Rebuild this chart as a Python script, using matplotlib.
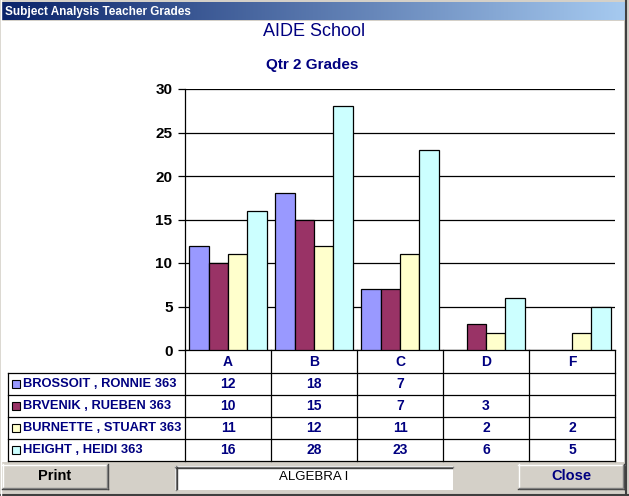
import matplotlib as mpl
import matplotlib.pyplot as plt
import numpy as np
from matplotlib.patches import Rectangle
from matplotlib.transforms import blended_transform_factory

# Data
grades = ['A', 'B', 'C', 'D', 'F']
students = ['BROSSOIT , RONNIE 363', 'BRVENIK , RUEBEN 363',
            'BURNETTE , STUART 363', 'HEIGHT , HEIDI 363']
brossoit = [12, 18, 7, None, None]
brvenik = [10, 15, 7, 3, None]
burnette = [11, 12, 11, 2, 2]
height = [16, 28, 23, 6, 5]
series = [brossoit, brvenik, burnette, height]
colors = ['#9999FF', '#993366', '#FFFFCC', '#CCFFFF']
yticks = [0, 5, 10, 15, 20, 25, 30]

NAVY = '#000080'
FACE = '#D4D0C8'
W, H = 629, 496

# plot area / table layout in pixels
PL, PR, PT, PB = 185, 615, 89, 350
TL = 8
HEAD_H, ROW_H = 23, 22

mpl.rcParams['font.family'] = 'Liberation Sans'

fig = plt.figure(figsize=(W / 100, H / 100), dpi=100)
fig.patch.set_facecolor(FACE)

# window chrome, pixel coords
bg = fig.add_axes([0, 0, 1, 1], zorder=0)
grad = np.linspace(0, 1, 256).reshape(1, -1)
cmap = mpl.colors.LinearSegmentedColormap.from_list('tb', ['#0A246A', '#A6CAF0'])
bg.imshow(grad, cmap=cmap, extent=[2, 625, 20, 2], aspect='auto')
bg.add_patch(Rectangle((2, 21), 622, 441, facecolor='white', edgecolor='none'))
bg.plot([626, 626], [0, 496], color='#404040', lw=1.5)
bg.plot([0, 629], [494.5, 494.5], color='#404040', lw=1.5)
bg.plot([0.5, 0.5], [0, 496], color='white', lw=1)
bg.set_xlim(0, W)
bg.set_ylim(H, 0)
bg.axis('off')

bg.text(5, 11.5, 'Subject Analysis Teacher Grades', color='white',
        fontweight='bold', fontsize=8.5, va='center', ha='left')
bg.text(314, 32, 'AIDE School', color=NAVY, fontsize=13, ha='center', va='center')
bg.text(312, 65, 'Qtr 2 Grades', color=NAVY, fontsize=11, fontweight='bold',
        ha='center', va='center')


def button(x0, y0, w, h, text, color):
    bg.add_patch(Rectangle((x0, y0), w, h, facecolor=FACE, edgecolor='none'))
    bg.plot([x0, x0 + w], [y0 + 0.5, y0 + 0.5], color='white', lw=1)
    bg.plot([x0 + 0.5, x0 + 0.5], [y0, y0 + h], color='white', lw=1)
    bg.plot([x0, x0 + w], [y0 + h - 0.5, y0 + h - 0.5], color='#404040', lw=1)
    bg.plot([x0 + w - 0.5, x0 + w - 0.5], [y0, y0 + h], color='#404040', lw=1)
    bg.plot([x0 + 1, x0 + w - 1], [y0 + h - 1.5, y0 + h - 1.5], color='#808080', lw=1)
    bg.plot([x0 + w - 1.5, x0 + w - 1.5], [y0 + 1, y0 + h - 1], color='#808080', lw=1)
    bg.text(x0 + w / 2, y0 + h / 2, text, color=color, fontweight='bold',
            fontsize=10.5, ha='center', va='center')


button(2, 464, 106, 25, 'Print', 'black')
button(518, 464, 106, 25, 'Close', NAVY)

# text box
bg.add_patch(Rectangle((175, 466), 278, 24, facecolor='white', edgecolor='none'))
bg.plot([175, 453], [466.5, 466.5], color='#808080', lw=1)
bg.plot([175.5, 175.5], [466, 490], color='#808080', lw=1)
bg.plot([176, 452], [467.5, 467.5], color='#404040', lw=1)
bg.plot([176.5, 176.5], [467, 489], color='#404040', lw=1)
bg.text(314, 477, 'ALGEBRA I', color='black', fontsize=9.5, ha='center', va='center')

# chart
ax = fig.add_axes([PL / W, (H - PB) / H, (PR - PL) / W, (PB - PT) / H], zorder=1)
ax.set_facecolor('none')
x = np.arange(len(grades))
bw = 0.225
for j, (vals, c) in enumerate(zip(series, colors)):
    xs = [xi + (j - 1.5) * bw for xi, v in zip(x, vals) if v]
    vs = [v for v in vals if v]
    ax.bar(xs, vs, bw, color=c, edgecolor='black', linewidth=0.9, zorder=3)

ax.set_yticks(yticks, labels=[str(t) for t in yticks], fontweight='bold')
ax.set_xticks([])
ax.tick_params(axis='y', length=5, width=0.9, pad=4, labelsize=11, colors='black')
ax.yaxis.grid(True, color='black', lw=0.9, zorder=1)
ax.set_axisbelow(True)
for s in ['top', 'right']:
    ax.spines[s].set_visible(False)
for s in ['left', 'bottom']:
    ax.spines[s].set_linewidth(0.9)

# data table under the chart: x in data units, y in axes fraction
pw, ph = PR - PL, PB - PT
tr = blended_transform_factory(ax.transData, ax.transAxes)
row_edges = [0, -HEAD_H / ph] + [-(HEAD_H + ROW_H * (r + 1)) / ph
                                 for r in range(len(students))]
y_bot = row_edges[-1]
lab_left = (TL - PL) / pw
line_kw = dict(color='black', lw=0.9, clip_on=False, zorder=4)

col_edges = np.arange(len(grades) + 1) - 0.5
for xe in col_edges:
    ax.plot([xe, xe], [0, y_bot], transform=tr, **line_kw)
ax.plot([lab_left, lab_left], [row_edges[1], y_bot], transform=ax.transAxes, **line_kw)
for ye in row_edges[1:]:
    ax.plot([lab_left, 1], [ye, ye], transform=ax.transAxes, **line_kw)

txt_kw = dict(color=NAVY, fontweight='bold', va='center', clip_on=False)
head_mid = row_edges[1] / 2
for i, g in enumerate(grades):
    ax.text(i, head_mid, g, transform=tr, ha='center', fontsize=10, **txt_kw)

for r, (name, vals, c) in enumerate(zip(students, series, colors)):
    ymid = (row_edges[r + 1] + row_edges[r + 2]) / 2
    ax.add_patch(Rectangle(((12 - PL) / pw, ymid - 4 / ph), 8 / pw, 8 / ph,
                           transform=ax.transAxes, facecolor=c, edgecolor='black',
                           linewidth=0.8, clip_on=False, zorder=4))
    ax.text((23 - PL) / pw, ymid, name, transform=ax.transAxes, ha='left',
            fontsize=9.3, **txt_kw)
    for i, v in enumerate(vals):
        if v is not None:
            ax.text(i, ymid, str(v), transform=tr, ha='center', fontsize=10, **txt_kw)

ax.set_xlim(-0.5, len(grades) - 0.5)
ax.set_ylim(0, 30)

fig.savefig('out.png', dpi=100)
